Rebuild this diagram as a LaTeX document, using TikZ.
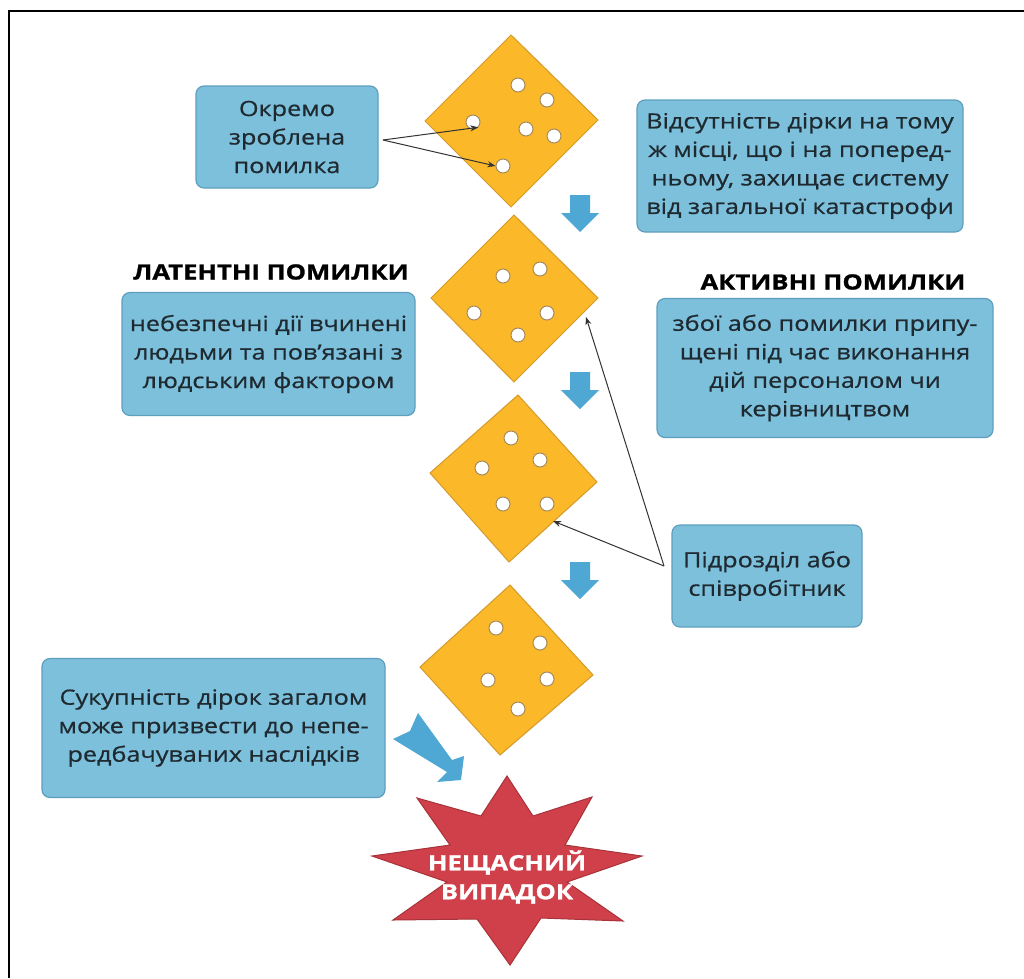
\documentclass[tikz,border=0pt]{standalone}
\usepackage{fontspec}
\setmainfont{Open Sans}[FakeStretch=1.2,FakeBold=0.7]
\newfontfamily\heavyfont{Open Sans}[FakeStretch=1.22,BoldFeatures={FakeBold=1.2}]
\usetikzlibrary{arrows.meta}
\definecolor{boxfill}{HTML}{7DC0DC}
\definecolor{boxline}{HTML}{5E9FBD}
\definecolor{dia}{HTML}{FBB829}
\definecolor{dialine}{HTML}{D49A2A}
\definecolor{holeline}{HTML}{A88A5A}
\definecolor{arrowblue}{HTML}{4FA7D4}
\definecolor{starred}{HTML}{D0404A}
\definecolor{starline}{HTML}{A8323A}
\definecolor{txt}{HTML}{1F2A30}
\begin{document}
\begin{tikzpicture}[x=1pt,y=-1pt,
  infobox/.style={draw=boxline,line width=1.2pt,fill=boxfill,rounded corners=8pt,
    align=center,text=txt,inner sep=0pt,
    font=\fontsize{21}{28.5}\selectfont},
  heading/.style={font=\heavyfont\fontsize{21}{24}\selectfont\bfseries,text=black,inner sep=0pt},
  plate/.style={fill=dia,draw=dialine,line width=1pt,line join=miter},
  hole/.style={circle,fill=white,draw=holeline,line width=1pt,minimum size=14pt,inner sep=0pt},
  pointer/.style={draw=black!80,line width=1pt,-{Stealth[length=8pt,width=6pt]}},
  bluedown/.pic={\fill[arrowblue] (-10,0) -- (10,0) -- (10,18) -- (19,18) -- (0,37) -- (-19,18) -- (-10,18) -- cycle;}
]
\useasboundingbox (0,0) rectangle (1024,978);
\fill[white] (0,0) rectangle (1024,978);
% frame
\draw[line width=2pt] (9,978) -- (9,11) -- (1024,11);

% plates
\path[plate] (511,35) -- (598,120) -- (511,207) -- (425,121) -- cycle;
\path[plate] (514,215) -- (598,298) -- (514,382) -- (431,298) -- cycle;
\path[plate] (518,395) -- (597,482) -- (509,562) -- (430,473) -- cycle;
\path[plate] (510,585) -- (593,675) -- (500,755) -- (420,667) -- cycle;

% holes plate 1
\node[hole] (h11) at (518,85) {};
\node[hole] (h12) at (547,100) {};
\node[hole] (h13) at (473,122) {};
\node[hole] (h14) at (526,129) {};
\node[hole] (h15) at (554,136) {};
\node[hole] (h16) at (503,166) {};
% holes plate 2
\node[hole] (h21) at (503,276) {};
\node[hole] (h22) at (540,269) {};
\node[hole] (h23) at (474,313) {};
\node[hole] (h24) at (547,313) {};
\node[hole] (h25) at (518,335) {};
% holes plate 3
\node[hole] (h31) at (511,438) {};
\node[hole] (h32) at (540,460) {};
\node[hole] (h33) at (482,468) {};
\node[hole] (h34) at (503,504) {};
\node[hole] (h35) at (547,504) {};
% holes plate 4
\node[hole] (h41) at (496,628) {};
\node[hole] (h42) at (540,643) {};
\node[hole] (h43) at (488,680) {};
\node[hole] (h44) at (547,679) {};
\node[hole] (h45) at (518,709) {};

% small blue arrows
\pic at (580,195) {bluedown};
\pic at (580,372) {bluedown};
\pic at (580,562) {bluedown};

% boxes
\node[infobox,minimum width=182pt,minimum height=102pt] (b1) at (287,137)
  {Окремо\\зроблена\\помилка};
\node[infobox,minimum width=326pt,minimum height=132pt] (b2) at (800,166)
  {Відсутність дірки на тому\\ж місці, що і на поперед-\\ньому, захищає систему\\від загальної катастрофи};
\node[heading] (lat) at (271,272) {ЛАТЕНТНІ ПОМИЛКИ};
\node[heading] (act) at (833,282) {АКТИВНІ ПОМИЛКИ};
\node[infobox,minimum width=293pt,minimum height=123pt] (b3) at (268.5,354)
  {небезпечні дії вчинені\\людьми та пов'язані з\\людським фактором};
\node[infobox,minimum width=336pt,minimum height=139pt] (b4) at (825,368)
  {збої або помилки припу-\\щені під час виконання\\дій персоналом чи\\керівництвом};
\node[infobox,minimum width=190pt,minimum height=102pt] (b5) at (767,576)
  {Підрозділ або\\співробітник};
\node[infobox,minimum width=343pt,minimum height=139pt] (b6) at (213.5,728)
  {Сукупність дірок загалом\\може призвести до непе-\\редбачуваних наслідків};

% pointers
\coordinate (p1) at (383,140);
\draw[pointer] (p1) -- (h13.south east);
\draw[pointer] (p1) -- (h16.west);
\coordinate (p5) at (664,566);
\draw[pointer] (p5) -- (586,317);
\draw[pointer] (p5) -- (553,521);

% big blue arrow
\fill[arrowblue] (393,739) -- (410,731) -- (418,713) -- (452,760) -- (464,756)
  -- (461,780) -- (437,782) -- (447,772) -- cycle;

% star
\path[fill=starred,draw=starline,line width=1pt,line join=miter]
  (507,776) -- (533,816) -- (592,797) -- (565,845) -- (642,856) -- (567,882)
  -- (623,921) -- (541,918) -- (510,965) -- (477,919) -- (393,920) -- (447,882)
  -- (372,856) -- (450,845) -- (417,798) -- (481,816) -- cycle;
\node[font=\heavyfont\fontsize{21}{29}\selectfont\bfseries,text=white,align=center,inner sep=0pt]
  (acc) at (507,877) {НЕЩАСНИЙ\\ВИПАДОК};
\end{tikzpicture}
\end{document}
